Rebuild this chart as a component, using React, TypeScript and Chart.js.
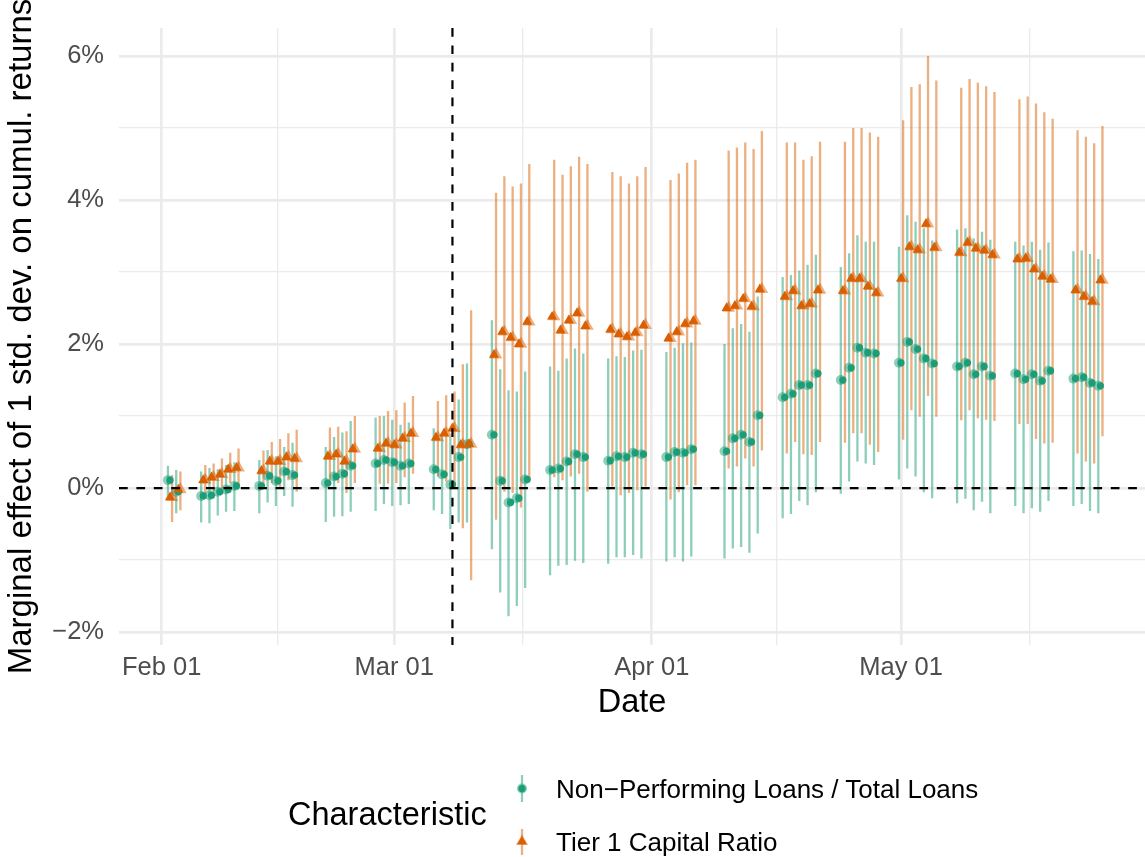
import React, { useEffect, useRef } from "react";
import { Chart, registerables } from "chart.js";

Chart.register(...registerables);

// ---------- data ----------
const originDate = "2023-02-01";
const eventDate = "2023-03-08";
const refValue = 0;

const dates = [
  "2023-02-02", "2023-02-03", "2023-02-06", "2023-02-07", "2023-02-08", "2023-02-09", "2023-02-10",
  "2023-02-13", "2023-02-14", "2023-02-15", "2023-02-16", "2023-02-17", "2023-02-21", "2023-02-22",
  "2023-02-23", "2023-02-24", "2023-02-27", "2023-02-28",
  "2023-03-01", "2023-03-02", "2023-03-03", "2023-03-06", "2023-03-07", "2023-03-08", "2023-03-09",
  "2023-03-10", "2023-03-13", "2023-03-14", "2023-03-15", "2023-03-16", "2023-03-17", "2023-03-20",
  "2023-03-21", "2023-03-22", "2023-03-23", "2023-03-24", "2023-03-27", "2023-03-28", "2023-03-29",
  "2023-03-30", "2023-03-31",
  "2023-04-03", "2023-04-04", "2023-04-05", "2023-04-06", "2023-04-10", "2023-04-11", "2023-04-12",
  "2023-04-13", "2023-04-14", "2023-04-17", "2023-04-18", "2023-04-19", "2023-04-20", "2023-04-21",
  "2023-04-24", "2023-04-25", "2023-04-26", "2023-04-27", "2023-04-28",
  "2023-05-01", "2023-05-02", "2023-05-03", "2023-05-04", "2023-05-05", "2023-05-08", "2023-05-09",
  "2023-05-10", "2023-05-11", "2023-05-12", "2023-05-15", "2023-05-16", "2023-05-17", "2023-05-18",
  "2023-05-19", "2023-05-22", "2023-05-23", "2023-05-24", "2023-05-25",
];

// Non-Performing Loans / Total Loans (in %)
const nplEst = [
  0.11, -0.05, -0.11, -0.10, -0.05, -0.02, 0.03, 0.03, 0.17, 0.10, 0.23, 0.18, 0.07, 0.16, 0.20, 0.31, 0.34, 0.39,
  0.36, 0.31, 0.34, 0.26, 0.19, 0.05, 0.43, 0.61, 0.74, 0.10, -0.20, -0.14, 0.12, 0.25, 0.27, 0.37, 0.47, 0.43, 0.38, 0.44, 0.43, 0.49, 0.47,
  0.43, 0.50, 0.49, 0.54, 0.51, 0.69, 0.74, 0.64, 1.01, 1.26, 1.31, 1.43, 1.43, 1.59, 1.50, 1.67, 1.95, 1.88, 1.87,
  1.74, 2.03, 1.93, 1.80, 1.73, 1.69, 1.74, 1.58, 1.69, 1.56, 1.59, 1.51, 1.58, 1.49, 1.63, 1.52, 1.54, 1.46, 1.42,
];
const nplLo = [
  -0.12, -0.35, -0.48, -0.49, -0.38, -0.33, -0.32, -0.35, -0.20, -0.25, -0.11, -0.26, -0.47, -0.40, -0.39, -0.33, -0.32, -0.22,
  -0.25, -0.24, -0.22, -0.31, -0.36, -0.57, -0.48, -0.48, -0.85, -1.45, -1.78, -1.64, -1.39, -1.21, -1.08, -1.07, -1.01, -1.04, -1.05, -0.96, -0.96, -0.93, -0.98,
  -1.02, -0.96, -1.02, -0.95, -0.98, -0.84, -0.82, -0.90, -0.63, -0.42, -0.36, -0.18, -0.24, -0.06, -0.08, 0.09, 0.37, 0.34, 0.32,
  0.12, 0.27, 0.16, -0.06, -0.14, -0.21, -0.15, -0.31, -0.19, -0.35, -0.25, -0.35, -0.28, -0.33, -0.18, -0.25, -0.22, -0.32, -0.35,
];
const nplHi = [
  0.31, 0.25, 0.23, 0.28, 0.26, 0.32, 0.36, 0.39, 0.53, 0.44, 0.57, 0.63, 0.57, 0.71, 0.77, 0.93, 0.98, 1.00,
  0.95, 0.88, 0.91, 0.83, 0.76, 0.71, 1.23, 1.73, 2.33, 1.65, 1.36, 1.34, 1.62, 1.69, 1.63, 1.80, 1.94, 1.87, 1.80, 1.83, 1.82, 1.91, 1.92,
  1.89, 1.95, 2.01, 2.02, 2.00, 2.22, 2.28, 2.17, 2.66, 2.93, 2.96, 3.02, 3.10, 3.24, 3.07, 3.26, 3.51, 3.42, 3.42,
  3.35, 3.79, 3.70, 3.61, 3.44, 3.59, 3.61, 3.47, 3.56, 3.45, 3.42, 3.37, 3.42, 3.31, 3.41, 3.29, 3.30, 3.25, 3.18,
];

// Tier 1 Capital Ratio (in %)
const t1Est = [
  -0.13, -0.02, 0.11, 0.15, 0.19, 0.26, 0.28, 0.24, 0.37, 0.37, 0.43, 0.41, 0.44, 0.47, 0.37, 0.54, 0.55, 0.62,
  0.60, 0.69, 0.76, 0.70, 0.76, 0.83, 0.60, 0.61, 1.85, 2.17, 2.09, 2.00, 2.31, 2.38, 2.19, 2.33, 2.43, 2.25, 2.20, 2.14, 2.10, 2.16, 2.26,
  2.08, 2.17, 2.28, 2.32, 2.50, 2.53, 2.63, 2.52, 2.76, 2.66, 2.74, 2.53, 2.56, 2.75, 2.74, 2.91, 2.91, 2.80, 2.71,
  2.91, 3.35, 3.31, 3.67, 3.34, 3.27, 3.41, 3.33, 3.30, 3.24, 3.18, 3.19, 3.04, 2.94, 2.90, 2.75, 2.66, 2.59, 2.89,
];
const t1Lo = [
  -0.47, -0.31, -0.07, -0.05, 0.00, 0.07, 0.04, 0.02, 0.07, 0.00, 0.11, -0.05, 0.11, 0.07, -0.07, 0.07, 0.06, 0.06,
  0.07, 0.15, 0.20, 0.16, 0.09, 0.02, -0.56, -1.28, -0.44, -0.05, -0.07, -0.27, 0.10, 0.15, 0.11, 0.16, 0.20, -0.05, 0.02, -0.10, -0.07, -0.03, 0.02,
  -0.16, -0.06, 0.04, 0.04, 0.27, 0.30, 0.41, 0.30, 0.52, 0.48, 0.64, 0.47, 0.46, 0.64, 0.63, 0.76, 0.76, 0.60, 0.50,
  0.67, 1.08, 0.99, 1.28, 0.99, 0.94, 1.08, 0.97, 0.95, 0.93, 0.89, 0.89, 0.68, 0.62, 0.63, 0.48, 0.37, 0.34, 0.72,
];
const t1Hi = [
  0.18, 0.23, 0.32, 0.34, 0.41, 0.49, 0.55, 0.52, 0.64, 0.68, 0.76, 0.81, 0.84, 0.85, 0.79, 1.00, 1.00, 1.07,
  1.08, 1.19, 1.28, 1.21, 1.29, 1.34, 1.72, 2.47, 4.10, 4.33, 4.19, 4.23, 4.50, 4.56, 4.35, 4.47, 4.60, 4.50, 4.39, 4.33, 4.23, 4.33, 4.46,
  4.28, 4.37, 4.52, 4.56, 4.69, 4.73, 4.80, 4.71, 4.96, 4.80, 4.80, 4.56, 4.61, 4.81, 4.81, 5.00, 5.00, 4.94, 4.88,
  5.11, 5.57, 5.61, 6.00, 5.66, 5.56, 5.68, 5.63, 5.58, 5.50, 5.40, 5.44, 5.34, 5.22, 5.13, 4.97, 4.88, 4.79, 5.03,
];

const seriesNames = ["Non\u2212Performing Loans / Total Loans", "Tier 1 Capital Ratio"];
const legendTitle = "Characteristic";
const xTitle = "Date";
const yTitle = "Marginal effect of 1 std. dev. on cumul. returns";

const xBreakDates = ["2023-02-01", "2023-03-01", "2023-04-01", "2023-05-01", "2023-06-01"];
const xBreakLabels = ["Feb 01", "Mar 01", "Apr 01", "May 01", ""];
const yBreaks = [-2, -1, 0, 1, 2, 3, 4, 5, 6];
const yBreakLabels = ["\u22122%", "", "0%", "", "2%", "", "4%", "", "6%"];

// axis limits (ggplot expansion), in days since origin and in %
const xLimits = [-5.14, 118.37];
const yLimits = [-2.18, 6.39];

// ---------- styling ----------
const GREEN = "#1B9E77";
const ORANGE = "#D95F02";
const GREEN_A = "rgba(27,158,119,0.5)";
const ORANGE_A = "rgba(217,95,2,0.5)";
const FONT = "'Liberation Sans', Arial, Helvetica, sans-serif";
const DODGE = 0.25;

const dayOf = (s: string) =>
  (Date.parse(s + "T00:00:00Z") - Date.parse(originDate + "T00:00:00Z")) / 86400000;

const xDays = dates.map(dayOf);
const majorDays = xBreakDates.map(dayOf);
const minorDays = majorDays.slice(0, -1).map((d, i) => (d + majorDays[i + 1]) / 2);
const xTickVals = [...majorDays, ...minorDays]
  .filter((v) => v >= xLimits[0] && v <= xLimits[1])
  .sort((a, b) => a - b);

function rangeData(xs: number[], lo: number[], hi: number[], off: number) {
  const out: { x: number; y: number | null }[] = [];
  xs.forEach((x, i) => {
    out.push({ x: x + off, y: lo[i] });
    out.push({ x: x + off, y: hi[i] });
    out.push({ x: x + off, y: null });
  });
  return out;
}
const pts = (xs: number[], ys: number[], off: number) => xs.map((x, i) => ({ x: x + off, y: ys[i] }));

const refLines = {
  id: "refLines",
  afterDatasetsDraw(chart: any) {
    const { ctx, chartArea, scales } = chart;
    const x = scales.x;
    const y = scales.y;
    ctx.save();
    ctx.strokeStyle = "#000";
    ctx.lineWidth = 2.2;
    ctx.setLineDash([8.7, 8.7]);
    const py = y.getPixelForValue(refValue);
    ctx.beginPath();
    ctx.moveTo(chartArea.left, py);
    ctx.lineTo(chartArea.right, py);
    ctx.stroke();
    const px = x.getPixelForValue(dayOf(eventDate));
    ctx.beginPath();
    ctx.moveTo(px, chartArea.top);
    ctx.lineTo(px, chartArea.bottom);
    ctx.stroke();
    ctx.restore();
  },
};

function GlyphCircle() {
  return (
    <svg width={20} height={30} style={{ position: "absolute", left: 512, top: 774 }}>
      <line x1={10} y1={1} x2={10} y2={28} stroke={GREEN_A} strokeWidth={2.3} />
      <circle cx={10} cy={14.5} r={5} fill={GREEN_A} />
      <circle cx={10} cy={14.5} r={3.6} fill={GREEN} />
    </svg>
  );
}
function GlyphTriangle() {
  const tri = (cx: number, cy: number, r: number) => {
    const p = [0, 1, 2].map((k) => {
      const a = (k * 2 * Math.PI) / 3;
      return `${cx + Math.sin(a) * r},${cy - Math.cos(a) * r}`;
    });
    return p.join(" ");
  };
  return (
    <svg width={20} height={30} style={{ position: "absolute", left: 512, top: 827 }}>
      <line x1={10} y1={2} x2={10} y2={28} stroke={ORANGE_A} strokeWidth={2.3} />
      <polygon points={tri(10, 14.5, 7)} fill={ORANGE_A} />
      <polygon points={tri(10, 14.5, 5.6)} fill={ORANGE} />
    </svg>
  );
}

export default function App() {
  const ref = useRef<HTMLCanvasElement | null>(null);

  useEffect(() => {
    const canvas = ref.current;
    if (!canvas) return;

    const chart = new Chart(canvas, {
      type: "scatter",
      data: {
        datasets: [
          {
            label: seriesNames[1] + " point",
            data: pts(xDays, t1Est, 0),
            pointStyle: "triangle",
            pointRadius: 5.8,
            backgroundColor: ORANGE,
            borderWidth: 0,
            order: 1,
          },
          {
            label: seriesNames[0] + " point",
            data: pts(xDays, nplEst, 0),
            pointStyle: "circle",
            pointRadius: 3.6,
            backgroundColor: GREEN,
            borderWidth: 0,
            order: 1,
          },
          {
            label: seriesNames[1] + " halo",
            data: pts(xDays, t1Est, DODGE),
            pointStyle: "triangle",
            pointRadius: 7.3,
            backgroundColor: ORANGE_A,
            borderWidth: 0,
            order: 2,
          },
          {
            label: seriesNames[0] + " halo",
            data: pts(xDays, nplEst, -DODGE),
            pointStyle: "circle",
            pointRadius: 5,
            backgroundColor: GREEN_A,
            borderWidth: 0,
            order: 2,
          },
          {
            label: seriesNames[1] + " range",
            data: rangeData(xDays, t1Lo, t1Hi, DODGE),
            showLine: true,
            spanGaps: false,
            borderColor: ORANGE_A,
            borderWidth: 2.3,
            borderCapStyle: "butt",
            pointRadius: 0,
            order: 3,
          },
          {
            label: seriesNames[0] + " range",
            data: rangeData(xDays, nplLo, nplHi, -DODGE),
            showLine: true,
            spanGaps: false,
            borderColor: GREEN_A,
            borderWidth: 2.3,
            borderCapStyle: "butt",
            pointRadius: 0,
            order: 3,
          },
        ],
      } as any,
      options: {
        responsive: false,
        animation: false,
        events: [],
        layout: { autoPadding: false, padding: { top: 28, left: 0, right: 0, bottom: 0 } },
        plugins: { legend: { display: false }, tooltip: { enabled: false } },
        scales: {
          x: {
            type: "linear",
            min: xLimits[0],
            max: xLimits[1],
            afterBuildTicks: (scale: any) => {
              scale.ticks = xTickVals.map((v) => ({ value: v }));
            },
            afterFit: (scale: any) => {
              scale.height = 212;
              scale.paddingLeft = 0;
              scale.paddingRight = 0;
            },
            ticks: {
              autoSkip: false,
              maxRotation: 0,
              minRotation: 0,
              padding: 8,
              color: "#4D4D4D",
              font: { family: FONT, size: 25.5 },
              callback: (value: any) => {
                const i = majorDays.indexOf(Number(value));
                return i >= 0 ? xBreakLabels[i] : "";
              },
            },
            grid: {
              drawTicks: false,
              color: "#EBEBEB",
              lineWidth: (ctx: any) =>
                ctx.tick && majorDays.indexOf(ctx.tick.value) >= 0 ? 2.7 : 1.35,
            },
            border: { display: false },
            title: {
              display: true,
              text: xTitle,
              color: "#000",
              font: { family: FONT, size: 32.5 },
              padding: { top: 0, bottom: 134 },
            },
          },
          y: {
            type: "linear",
            min: yLimits[0],
            max: yLimits[1],
            afterBuildTicks: (scale: any) => {
              scale.ticks = yBreaks.map((v) => ({ value: v }));
            },
            afterFit: (scale: any) => {
              scale.width = 119;
              scale.paddingTop = 0;
              scale.paddingBottom = 0;
            },
            ticks: {
              autoSkip: false,
              padding: 15,
              color: "#4D4D4D",
              font: { family: FONT, size: 25.5 },
              callback: (value: any) => {
                const i = yBreaks.indexOf(Number(value));
                return i >= 0 ? yBreakLabels[i] : "";
              },
            },
            grid: {
              drawTicks: false,
              color: "#EBEBEB",
              lineWidth: (ctx: any) =>
                ctx.tick && Math.abs(ctx.tick.value % 2) === 0 ? 2.7 : 1.35,
            },
            border: { display: false },
            title: {
              display: true,
              text: yTitle,
              color: "#000",
              font: { family: FONT, size: 33 },
              padding: { top: 2, bottom: 0 },
            },
          },
        },
      } as any,
      plugins: [refLines],
    });

    return () => chart.destroy();
  }, []);

  const textBase: React.CSSProperties = {
    position: "absolute",
    fontFamily: FONT,
    lineHeight: 1,
    whiteSpace: "nowrap",
    color: "#000",
  };

  return (
    <div style={{ position: "absolute", left: 0, top: 0, width: 1145, height: 857, background: "#fff", overflow: "hidden" }}>
      <canvas ref={ref} width={1145} height={857} style={{ display: "block", width: 1145, height: 857 }} />
      <div style={{ ...textBase, left: 288, top: 797.5, fontSize: 32.5 }}>{legendTitle}</div>
      <GlyphCircle />
      <GlyphTriangle />
      <div style={{ ...textBase, left: 556, top: 776.3, fontSize: 26 }}>{seriesNames[0]}</div>
      <div style={{ ...textBase, left: 556, top: 828.7, fontSize: 26 }}>{seriesNames[1]}</div>
    </div>
  );
}
